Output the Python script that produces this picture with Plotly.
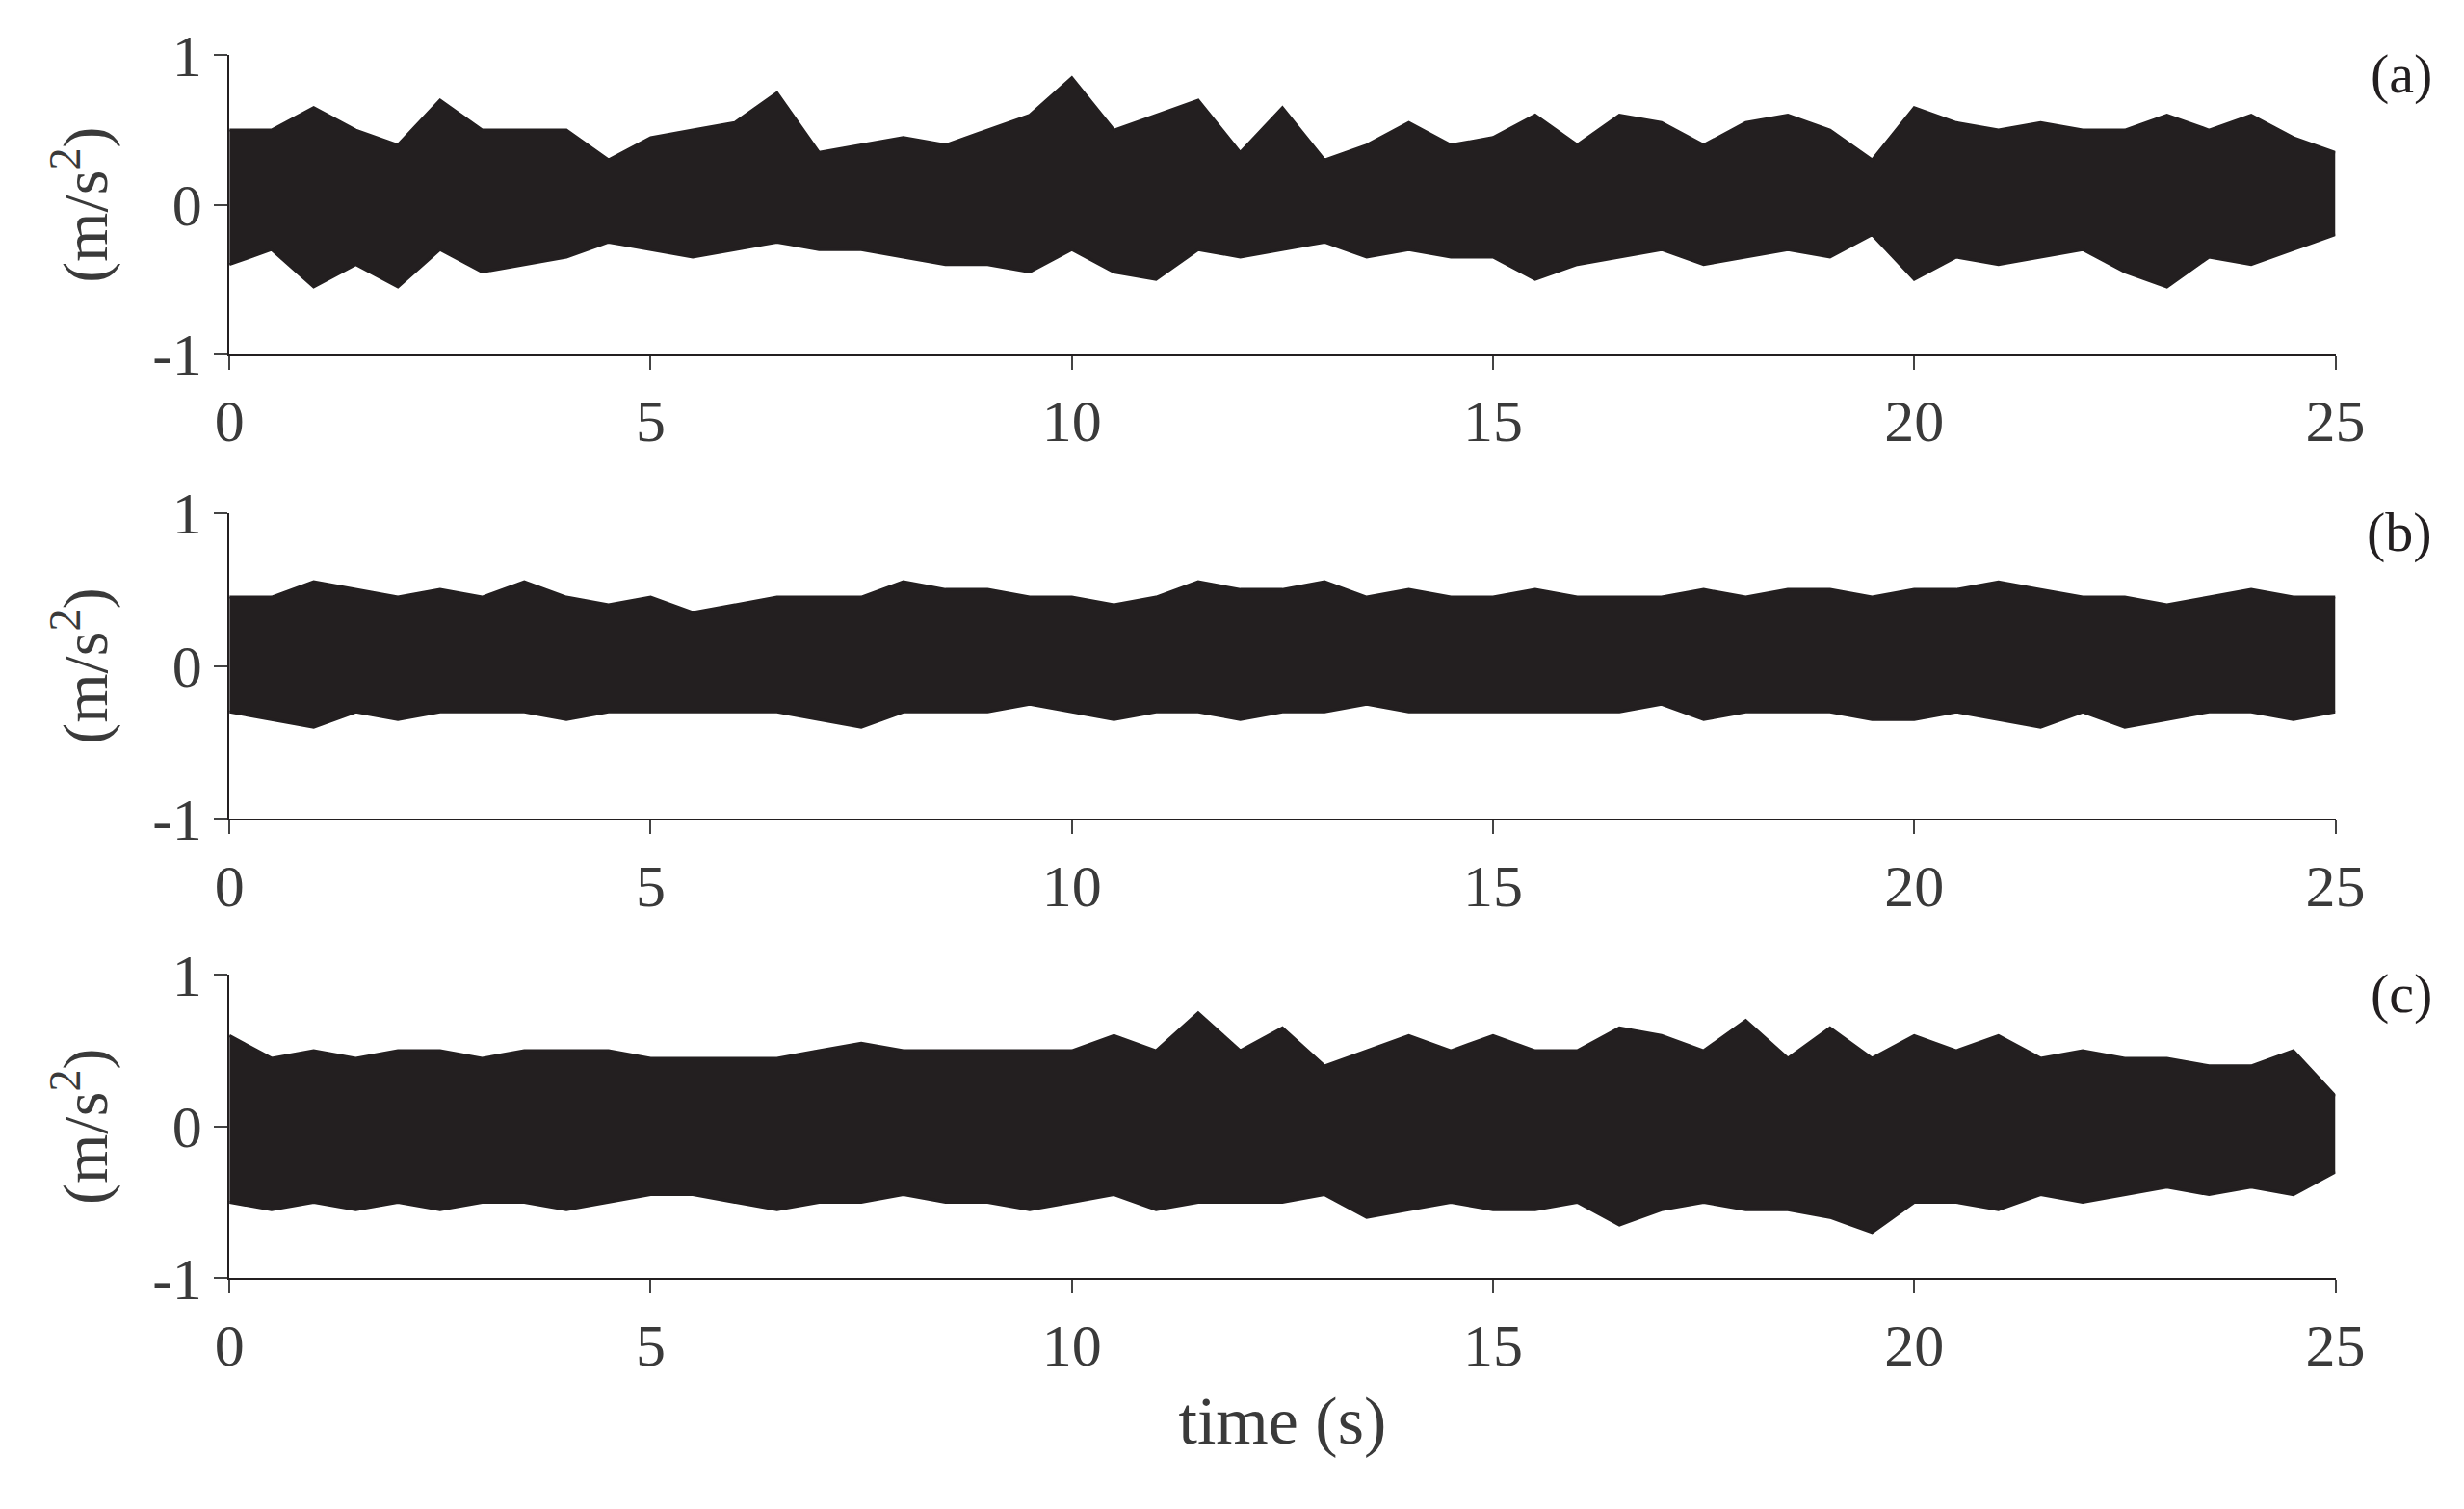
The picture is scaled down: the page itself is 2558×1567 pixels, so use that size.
import plotly.graph_objects as go

# Zeitachse in 0.5 s Schritten (Hüllkurven)
t = [i * 0.5 for i in range(51)]

a_oben = [0.5, 0.5, 0.65, 0.5, 0.4, 0.7, 0.5, 0.5, 0.5, 0.3, 0.45, 0.5, 0.55, 0.75, 0.35, 0.4,
          0.45, 0.4, 0.5, 0.6, 0.85, 0.5, 0.6, 0.7, 0.35, 0.65, 0.3, 0.4, 0.55, 0.4, 0.45, 0.6,
          0.4, 0.6, 0.55, 0.4, 0.55, 0.6, 0.5, 0.3, 0.65, 0.55, 0.5, 0.55, 0.5, 0.5, 0.6, 0.5,
          0.6, 0.45, 0.35]
a_unten = [-0.4, -0.3, -0.55, -0.4, -0.55, -0.3, -0.45, -0.4, -0.35, -0.25, -0.3, -0.35, -0.3,
           -0.25, -0.3, -0.3, -0.35, -0.4, -0.4, -0.45, -0.3, -0.45, -0.5, -0.3, -0.35, -0.3,
           -0.25, -0.35, -0.3, -0.35, -0.35, -0.5, -0.4, -0.35, -0.3, -0.4, -0.35, -0.3, -0.35,
           -0.2, -0.5, -0.35, -0.4, -0.35, -0.3, -0.45, -0.55, -0.35, -0.4, -0.3, -0.2]

b_oben = [0.45, 0.45, 0.55, 0.5, 0.45, 0.5, 0.45, 0.55, 0.45, 0.4, 0.45, 0.35, 0.4, 0.45, 0.45,
          0.45, 0.55, 0.5, 0.5, 0.45, 0.45, 0.4, 0.45, 0.55, 0.5, 0.5, 0.55, 0.45, 0.5, 0.45,
          0.45, 0.5, 0.45, 0.45, 0.45, 0.5, 0.45, 0.5, 0.5, 0.45, 0.5, 0.5, 0.55, 0.5, 0.45,
          0.45, 0.4, 0.45, 0.5, 0.45, 0.45]
b_unten = [-0.3, -0.35, -0.4, -0.3, -0.35, -0.3, -0.3, -0.3, -0.35, -0.3, -0.3, -0.3, -0.3,
           -0.3, -0.35, -0.4, -0.3, -0.3, -0.3, -0.25, -0.3, -0.35, -0.3, -0.3, -0.35, -0.3,
           -0.3, -0.25, -0.3, -0.3, -0.3, -0.3, -0.3, -0.3, -0.25, -0.35, -0.3, -0.3, -0.3,
           -0.35, -0.35, -0.3, -0.35, -0.4, -0.3, -0.4, -0.35, -0.3, -0.3, -0.35, -0.3]

c_oben = [0.6, 0.45, 0.5, 0.45, 0.5, 0.5, 0.45, 0.5, 0.5, 0.5, 0.45, 0.45, 0.45, 0.45, 0.5,
          0.55, 0.5, 0.5, 0.5, 0.5, 0.5, 0.6, 0.5, 0.75, 0.5, 0.65, 0.4, 0.5, 0.6, 0.5, 0.6,
          0.5, 0.5, 0.65, 0.6, 0.5, 0.7, 0.45, 0.65, 0.45, 0.6, 0.5, 0.6, 0.45, 0.5, 0.45,
          0.45, 0.4, 0.4, 0.5, 0.2]
c_unten = [-0.5, -0.55, -0.5, -0.55, -0.5, -0.55, -0.5, -0.5, -0.55, -0.5, -0.45, -0.45,
           -0.5, -0.55, -0.5, -0.5, -0.45, -0.5, -0.5, -0.55, -0.5, -0.45, -0.55, -0.5, -0.5,
           -0.5, -0.45, -0.6, -0.55, -0.5, -0.55, -0.55, -0.5, -0.65, -0.55, -0.5, -0.55, -0.55,
           -0.6, -0.7, -0.5, -0.5, -0.55, -0.45, -0.5, -0.45, -0.4, -0.45, -0.4, -0.45, -0.3]

x_ticks = [0, 5, 10, 15, 20, 25]
y_ticks = [-1, 0, 1]
y_ticktext = ["-1", "0", "1"]

panels = [(a_oben, a_unten, "(a)"), (b_oben, b_unten, "(b)"), (c_oben, c_unten, "(c)")]
domains = [(0.782, 0.989), (0.460, 0.672), (0.142, 0.352)]
schrift = "Liberation Serif"
grau = "#3a3a3a"

fig = go.Figure()
for i, (oben, unten, label) in enumerate(panels):
    n = "" if i == 0 else str(i + 1)
    fig.add_trace(go.Scatter(x=t, y=unten, mode="lines", line=dict(color="#231f20", width=3),
                             xaxis="x" + n, yaxis="y" + n, showlegend=False))
    fig.add_trace(go.Scatter(x=t, y=oben, mode="lines", fill="tonexty", fillcolor="#231f20",
                             line=dict(color="#231f20", width=3),
                             xaxis="x" + n, yaxis="y" + n, showlegend=False))
    achse = dict(showline=True, linecolor="#231f20", linewidth=2, ticks="outside",
                 ticklen=14, tickwidth=2, showgrid=False, zeroline=False,
                 tickfont=dict(family=schrift, size=62, color=grau))
    fig.layout["xaxis" + n] = dict(achse, domain=[0.0853, 0.956], range=[0, 25],
                                   tickvals=x_ticks, anchor="y" + n)
    fig.layout["yaxis" + n] = dict(achse, domain=list(domains[i]), range=[-1, 1],
                                   tickvals=y_ticks, ticktext=y_ticktext, anchor="x" + n,
                                   title=dict(text="(m/s<sup>2</sup>)", standoff=25,
                                              font=dict(family=schrift, size=66, color=grau)))
    fig.add_annotation(text=label, xref="paper", yref="paper", x=0.997, y=domains[i][1] + 0.01,
                       showarrow=False, xanchor="right", yanchor="top",
                       font=dict(family=schrift, size=58, color="#231f20"))

fig.layout["xaxis3"]["title"] = dict(text="time (s)", standoff=20,
                                     font=dict(family=schrift, size=70, color=grau))
fig.update_layout(width=2558, height=1567, plot_bgcolor="white", paper_bgcolor="white",
                  margin=dict(l=0, r=0, t=0, b=0))
fig.write_html("out.html")
